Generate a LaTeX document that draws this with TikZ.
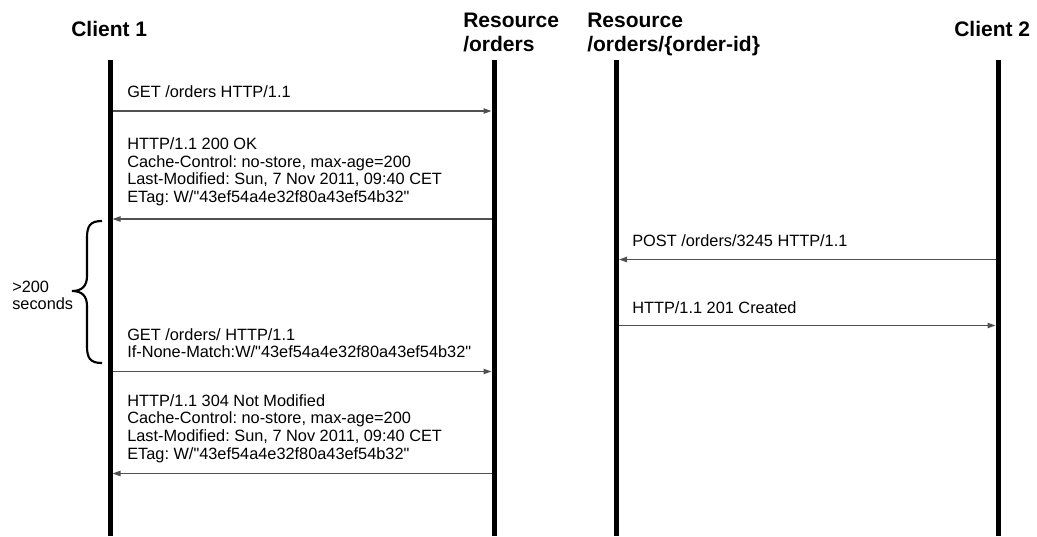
\documentclass[tikz,border=0pt]{standalone}
\usepackage{fontspec}
\setmainfont{Liberation Sans}[Ligatures=TeXOff]
\frenchspacing
\usetikzlibrary{arrows.meta}
\begin{document}
\begin{tikzpicture}[x=0.75pt,y=-0.75pt,
  lifeline/.style={line width=3.75pt,black},
  msg/.style={line width=1pt,draw={rgb,255:red,80;green,80;blue,80},
    -{Triangle[length=6pt,width=4pt]}},
  head/.style={inner sep=0pt,anchor=base west,
    font=\fontsize{15.75}{18}\selectfont\bfseries,align=left},
  label/.style={inner sep=0pt,anchor=base west,
    font=\fontsize{12.25}{13.3}\selectfont\frenchspacing},
  bracebar/.style={line width=1.6pt,black}]
\useasboundingbox (0,0) rectangle (1037,536);

% participants
\node[head] (h1) at (71,36) {Client 1};
\node[head] (h2) at (463,27) {\begin{tabular}[t]{@{}l@{}}Resource\\/orders\end{tabular}};
\node[head] (h3) at (587,27) {\begin{tabular}[t]{@{}l@{}}Resource\\/orders/\{order-id\}\end{tabular}};
\node[head] (h4) at (954,36) {Client 2};

% lifelines
\coordinate (c1t) at (110,60);  \coordinate (c1b) at (110,536);
\coordinate (o1t) at (494,60);  \coordinate (o1b) at (494,536);
\coordinate (o2t) at (616.5,60);\coordinate (o2b) at (616.5,536);
\coordinate (c2t) at (998,60);  \coordinate (c2b) at (998,536);
\draw[lifeline] (c1t) -- (c1b);
\draw[lifeline] (o1t) -- (o1b);
\draw[lifeline] (o2t) -- (o2b);
\draw[lifeline] (c2t) -- (c2b);

% message end points on the lifeline edges
\coordinate (m1a) at (112.5,111);  \coordinate (m1b) at (491.5,111);
\coordinate (m2a) at (491.5,219);  \coordinate (m2b) at (112.5,219);
\coordinate (m3a) at (995.5,259.5);\coordinate (m3b) at (619,259.5);
\coordinate (m4a) at (619,325.5);  \coordinate (m4b) at (995.5,325.5);
\coordinate (m5a) at (112.5,371.5);\coordinate (m5b) at (491.5,371.5);
\coordinate (m6a) at (491.5,473.5);\coordinate (m6b) at (112.5,473.5);

\draw[msg] (m1a) -- (m1b);
\draw[msg] (m2a) -- (m2b);
\draw[msg] (m3a) -- (m3b);
\draw[msg] (m4a) -- (m4b);
\draw[msg] (m5a) -- (m5b);
\draw[msg] (m6a) -- (m6b);

% message texts
\node[label] (t1) at (127,97) {GET /orders HTTP/1.1};
\node[label] (t2) at (127,149.5) {\begin{tabular}[t]{@{}l@{}}HTTP/1.1 200 OK\\
  Cache-Control: no-store, max-age=200\\
  Last-Modified: Sun, 7 Nov 2011, 09:40 CET\\
  ETag: W/"43ef54a4e32f80a43ef54b32"\end{tabular}};
\node[label] (t3) at (632,246.5) {POST /orders/3245 HTTP/1.1};
\node[label] (t4) at (632,313.5) {HTTP/1.1 201 Created};
\node[label] (t5) at (127,340) {\begin{tabular}[t]{@{}l@{}}GET /orders/ HTTP/1.1\\
  If-None-Match:W/"43ef54a4e32f80a43ef54b32"\end{tabular}};
\node[label] (t6) at (127,406) {\begin{tabular}[t]{@{}l@{}}HTTP/1.1 304 Not Modified\\
  Cache-Control: no-store, max-age=200\\
  Last-Modified: Sun, 7 Nov 2011, 09:40 CET\\
  ETag: W/"43ef54a4e32f80a43ef54b32"\end{tabular}};

% waiting interval brace
\draw[bracebar] (102,221) .. controls (90,221) and (87,226) .. (87,238)
  -- (87,276) .. controls (87,286) and (82,291) .. (72,291)
  .. controls (82,291) and (87,296) .. (87,306)
  -- (87,346) .. controls (87,358) and (90,363) .. (102,363);
\node[label] (t7) at (12,292) {\begin{tabular}[t]{@{}l@{}}>200\\seconds\end{tabular}};
\end{tikzpicture}
\end{document}
